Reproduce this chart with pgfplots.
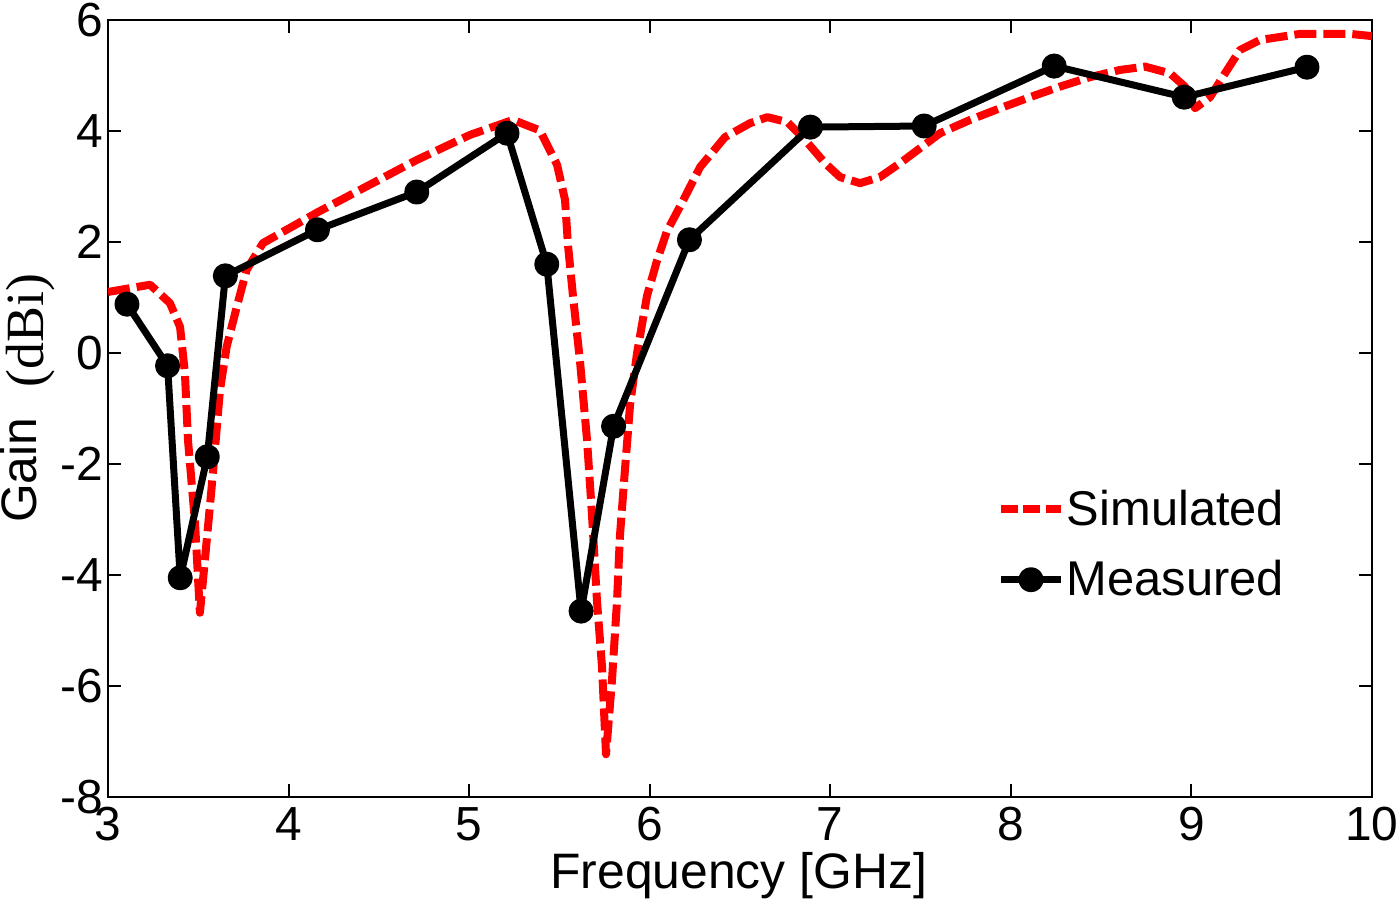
\documentclass[border=0pt]{standalone}
\usepackage{fontspec}
\setmainfont{Liberation Sans}
\newfontfamily\serifb{Liberation Serif}
\usepackage{pgfplots}
\pgfplotsset{compat=1.18}
\pgfplotsset{dashleg/.style={legend image code/.code={\draw[##1, dash pattern=on 8.5bp off 2.7bp] (0bp,0bp) -- (30bp,0bp);}}}
\begin{document}
\begin{tikzpicture}
\useasboundingbox (-54bp,-55.5bp) rectangle (646bp,398.5bp);
\begin{axis}[
  at={(0,0)}, anchor=south west,
  scale only axis, width=632bp, height=388.5bp,
  xmin=3, xmax=10, ymin=-8, ymax=6,
  xtick={3,4,...,10}, ytick={-8,-6,...,6},
  tick align=inside, major tick length=6.5bp,
  axis line style={line width=1bp},
  every tick/.style={line width=1bp, black},
  /pgf/number format/assume math mode=true,
  tick label style={font=\fontsize{24}{28}\selectfont},
  yticklabel style={inner sep=0pt, xshift=-2.5bp},
  xticklabel style={inner sep=0pt, yshift=-5bp},
  xlabel={Frequency [GHz]},
  xlabel style={font=\fontsize{25}{29}\selectfont, at={(axis description cs:0.499,-0.118)}, anchor=base},
  ylabel={Gain\hspace{15bp}{\serifb\fontsize{27}{31}\selectfont\raisebox{-3.5bp}{(dBi)}}},
  ylabel style={font=\fontsize{25}{29}\selectfont, inner sep=0pt, at={(axis description cs:-0.0566,0.513)}, anchor=base},
  legend style={draw=none, fill=none, at={(axis description cs:0.7030,0.398)}, anchor=north west,
    font=\fontsize{24.5}{28}\selectfont, row sep=14bp, inner sep=0pt, nodes={inner sep=1bp}},
  legend cell align=left,
  legend image code/.code={\draw[mark repeat=2,mark phase=2,#1] plot coordinates {(0bp,0bp) (15bp,0bp) (30bp,0bp)};},
]
\addplot[red, line width=4bp, line join=round, dash pattern=on 11bp off 3.5bp, dashleg] coordinates {
(3.000,1.10) (3.233,1.23) (3.343,0.90) (3.399,0.47) (3.426,-0.36) (3.443,-1.57)
(3.482,-3.06) (3.509,-4.68) (3.547,-3.37) (3.581,-2.17) (3.620,-0.67) (3.657,0.11)
(3.713,0.83) (3.768,1.50) (3.858,1.98) (4.163,2.54) (4.711,3.48) (5.005,3.93)
(5.243,4.20) (5.392,4.01) (5.487,3.39) (5.531,2.76) (5.547,1.96) (5.575,1.03)
(5.614,-0.15) (5.653,-1.57) (5.680,-2.90) (5.708,-4.47) (5.736,-5.66) (5.758,-7.23)
(5.791,-5.90) (5.819,-4.47) (5.835,-3.30) (5.863,-2.10) (5.891,-0.94) (5.930,0.00)
(5.985,1.03) (6.040,1.66) (6.096,2.20) (6.168,2.64) (6.279,3.35) (6.417,3.89)
(6.555,4.14) (6.652,4.25) (6.763,4.16) (6.860,3.84) (6.971,3.42) (7.054,3.17)
(7.165,3.06) (7.275,3.17) (7.386,3.42) (7.497,3.69) (7.608,3.96) (7.774,4.20)
(7.940,4.41) (8.106,4.61) (8.272,4.80) (8.438,4.97) (8.604,5.10) (8.743,5.16)
(8.881,5.04) (8.964,4.80) (9.020,4.41) (9.103,4.61) (9.186,5.04) (9.269,5.46)
(9.380,5.64) (9.601,5.75) (9.878,5.75) (10.0,5.71)
};
\addlegendentry{Simulated}
\addplot[black, line width=3.5bp, line join=round, mark=*, mark size=4.5bp, mark options={solid}] coordinates {
(3.105,0.88) (3.33,-0.23) (3.40,-4.05) (3.55,-1.87) (3.65,1.39) (4.16,2.22)
(4.71,2.90) (5.21,3.96) (5.43,1.60) (5.62,-4.65) (5.80,-1.32) (6.22,2.04)
(6.89,4.07) (7.52,4.09) (8.24,5.17) (8.96,4.61) (9.64,5.15)
};
\addlegendentry{Measured}
\end{axis}
\end{tikzpicture}
\end{document}
